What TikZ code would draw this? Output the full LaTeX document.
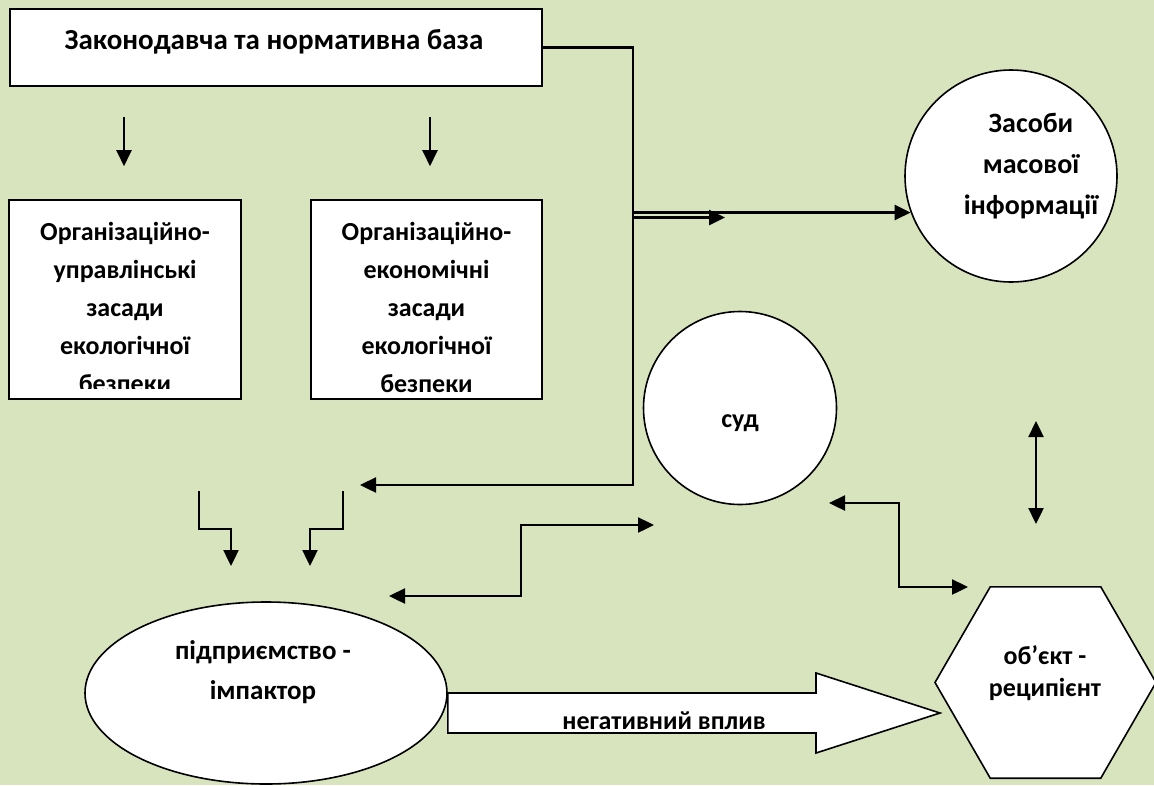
\documentclass[tikz,border=0pt]{standalone}
\usepackage{fontspec}
\setmainfont{Carlito}
\usetikzlibrary{arrows.meta,shapes.geometric,positioning,calc}

\definecolor{bggreen}{RGB}{215,228,189}

\tikzset{
  blk/.style={draw,line width=1.6pt,fill=white,inner sep=0pt},
  arr/.style={line width=2.4pt,-{Triangle[length=16pt,width=15pt]}},
  barr/.style={line width=2.4pt,{Triangle[length=16pt,width=15pt]}-{Triangle[length=16pt,width=15pt]}},
  lbl/.style={align=center,inner sep=0pt,font=\bfseries\fontsize{26}{38}\selectfont}
}

\begin{document}
\begin{tikzpicture}[x=1pt,y=-1pt]
        \useasboundingbox (0,0) rectangle (1154,785);
        \fill[bggreen] (0,0) rectangle (1154,785);

        \node[blk,minimum width=532pt,minimum height=77pt] (zak) at (276,47.5) {};
        \node[lbl,font=\bfseries\fontsize{29}{34}\selectfont] (zakt) at (274,42) {Законодавча та нормативна база};

        \node[blk,minimum width=232pt,minimum height=199pt] (org1) at (125,299.5) {};
        \begin{scope}
          \clip (org1.north west) rectangle ($(org1.south east)+(0,-11)$);
          \node[lbl] (org1t) at (125,307) {Організаційно-\\управлінські\\засади\\екологічної\\безпеки};
        \end{scope}
        \node[blk,minimum width=231pt,minimum height=199pt] (org2) at (426.5,299.5) {};
        \node[lbl] (org2t) at (426.5,307) {Організаційно-\\економічні\\засади\\екологічної\\безпеки};

        \node[blk,circle,minimum size=212pt] (zmi) at (1011,176) {};
        \node[lbl,font=\bfseries\fontsize{28}{41}\selectfont] (zmit) at (1031,166) {Засоби\\масової\\інформації};

        \node[blk,circle,minimum size=193pt] (sud) at (740,408) {};
        \node[lbl] (sudt) at (740,423) {суд};

        \node[blk,ellipse,minimum width=362pt,minimum height=182pt] (imp) at (266,693) {};
        \node[lbl,font=\bfseries\fontsize{27}{40}\selectfont] (impt) at (263,672) {підприємство -\\імпактор};

        \node[blk,regular polygon,regular polygon sides=6,minimum size=221pt] (obj) at (1045.5,682.5) {};
        \node[lbl,font=\bfseries\fontsize{26}{32}\selectfont] (objt) at (1045,673) {об’єкт -\\реципієнт};

        \draw[blk] (imp.east |- 0,693) -- (816,693) -- (816,673) -- (940,713)
          -- (816,753) -- (816,733) -- (imp.east |- 0,733) -- cycle;
        \node[lbl] (negt) at (664,721) {негативний вплив};

        \coordinate (turn) at (633,485);
        \draw[arr] (zak.east) -| (turn) -- ++(-273,0);
        \draw[arr] (zmi.200 -| turn) -- (zmi.200);
        \draw[arr] ($(zmi.200 -| turn)+(0,5)$) -- ++(92,0);

        \draw[arr] ($(org1.north)+(-1,-82)$) -- ++(0,49);
        \draw[arr] ($(org2.north)+(3.5,-82)$) -- ++(0,49);

        \coordinate (s1) at (199,491);
        \coordinate (s2) at (343,491);
        \draw[arr] (s1) -- ++(0,38) -| (231,566);
        \draw[arr] (s2) -- ++(0,38) -| (310,566);

        \draw[barr] (389,596) -| (521,525) -- (654,525);
        \draw[barr] (829,503) -| (899,587) -- (968,587);
        \draw[barr] (1036,421) -- (1036,524);
\end{tikzpicture}
\end{document}
